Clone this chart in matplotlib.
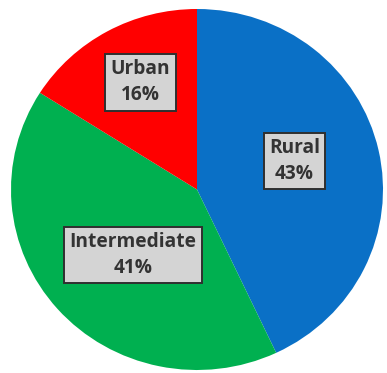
import matplotlib.pyplot as plt

# Share of population by area type
categories = ['Rural', 'Intermediate', 'Urban']
shares = [43, 41, 16]
colors = ['#0A70C6', '#00B050', '#FF0000']

W, H = 387, 373

fig = plt.figure(figsize=(W / 100, H / 100), dpi=100)
# the pie is drawn a touch wider than tall
ax = fig.add_axes([11 / W, 3 / H, 372 / W, 361 / H])
ax.pie(shares, colors=colors, startangle=90, counterclock=False,
       radius=1, wedgeprops=dict(linewidth=0))
ax.set_aspect('auto')
ax.set_xlim(-1, 1)
ax.set_ylim(-1, 1)
ax.axis('off')

# label box centres, in pixels from the top-left corner
label_pos = [(294.5, 161), (133, 255), (140.5, 82.5)]

for name, val, (px, py) in zip(categories, shares, label_pos):
    fig.text(px / W, 1 - py / H, f'{name}\n{val}%', ha='center', va='center',
             fontsize=13.8, fontfamily='Open Sans', fontweight='bold',
             color='#333333', linespacing=1.4,
             bbox=dict(boxstyle='square,pad=0.28', facecolor='#D4D4D4',
                       edgecolor='#2f2f2f', linewidth=1.4))

fig.savefig('out.png', dpi=100)
